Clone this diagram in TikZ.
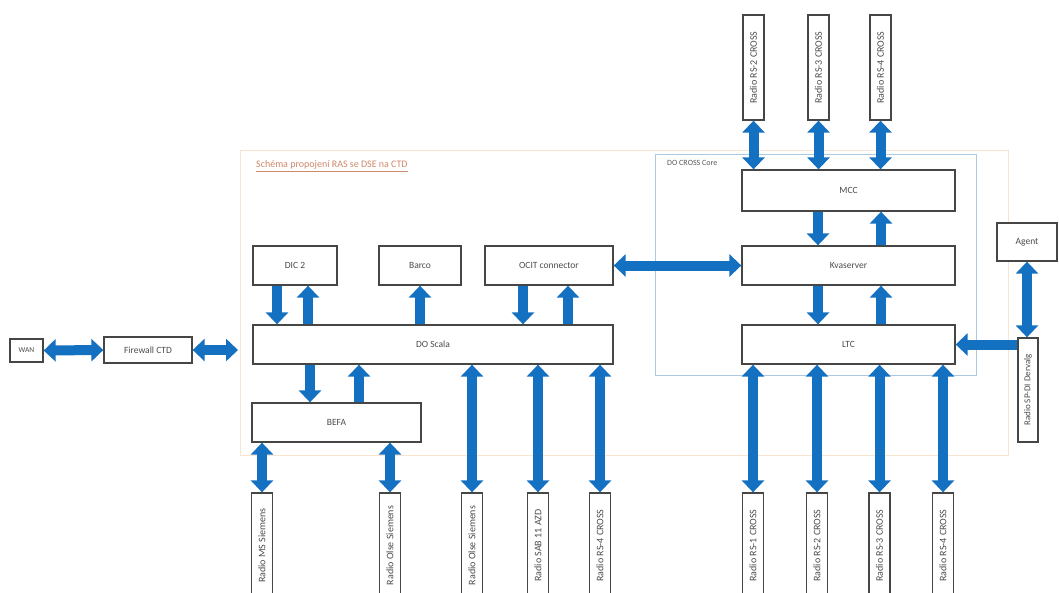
\documentclass[tikz,border=0pt]{standalone}
\usepackage{fontspec}
\setmainfont{Carlito}
\usetikzlibrary{arrows.meta}
\definecolor{arr}{RGB}{20,112,192}
\definecolor{bx}{RGB}{70,70,70}
\definecolor{fr}{RGB}{248,228,208}
\definecolor{core}{RGB}{170,202,228}
\definecolor{lbl}{RGB}{205,135,105}
\tikzset{
  box/.style={draw=bx, line width=1.3pt, fill=white, inner sep=0pt,
    font=\fontsize{9.5}{11}\selectfont, text=black!70},
  rbox/.style={box, rotate=90, minimum width=105pt, minimum height=21pt,
    font=\fontsize{10}{11}\selectfont},
  fat/.style={draw=arr, line width=10pt, -{Triangle[width=22pt,length=12pt]}},
  fatb/.style={draw=arr, line width=10pt, {Triangle[width=22pt,length=12pt]}-{Triangle[width=22pt,length=12pt]}},
}
\begin{document}
\begin{tikzpicture}[x=1pt,y=-1pt]
\useasboundingbox (0,0) rectangle (1059,592);
\clip (0,0) rectangle (1059,592);
% frames
\draw[fr, line width=1pt] (240,150) rectangle (1008,455);
\draw[core, line width=0.9pt] (655,154) rectangle (976,375);
\node[anchor=west, inner sep=0pt, font=\fontsize{10}{11}\selectfont, text=lbl] (title) at (256,166) {\underline{Schéma propojení RAS se DSE na CTD}};
\node[anchor=west, inner sep=0pt, font=\fontsize{8}{9}\selectfont, text=black!65] (corelbl) at (667,163) {DO CROSS Core};
% boxes
\node[box, minimum width=33pt, minimum height=23pt, font=\fontsize{7.5}{9}\selectfont] (wan) at (26.5,350.5) {WAN};
\node[box, minimum width=88pt, minimum height=26pt] (fw) at (148,350) {Firewall CTD};
\coordinate (fin) at (238,350);
\node[box, minimum width=84pt, minimum height=39pt] (dic) at (295,265.5) {DIC 2};
\node[box, minimum width=82pt, minimum height=39pt] (barco) at (420,265.5) {Barco};
\node[box, minimum width=128pt, minimum height=39pt] (ocit) at (549,265.5) {OCIT connector};
\node[box, minimum width=360pt, minimum height=39pt] (scala) at (433,344.5) {DO Scala};
\node[box, minimum width=169pt, minimum height=39pt] (befa) at (336.5,422.5) {BEFA};
\node[box, minimum width=213pt, minimum height=41pt] (mcc) at (848.5,190.5) {MCC};
\node[box, minimum width=213pt, minimum height=39pt] (kva) at (848.5,265.5) {Kvaserver};
\node[box, minimum width=213pt, minimum height=39pt] (ltc) at (848.5,344.5) {LTC};
\node[box, minimum width=60pt, minimum height=38pt] (agent) at (1027,242) {Agent};
\node[box, rotate=90, minimum width=104pt, minimum height=20pt, font=\fontsize{9}{10}\selectfont] (spdi) at (1028,390) {Radio SP-DI Dervalg};
% top radios
\node[rbox] (t1) at (753.5,67.5) {Radio RS-2 CROSS};
\node[rbox] (t2) at (818.5,67.5) {Radio RS-3 CROSS};
\node[rbox] (t3) at (880.5,67.5) {Radio RS-4 CROSS};
% bottom radios
\node[rbox] (b1) at (262,545.5) {Radio MS Siemens};
\node[rbox] (b2) at (390,545.5) {Radio Olse Siemens};
\node[rbox] (b3) at (472,545.5) {Radio Olse Siemens};
\node[rbox] (b4) at (538,545.5) {Radio SAB 11 AZD};
\node[rbox] (b5) at (600,545.5) {Radio RS-4 CROSS};
\node[rbox] (b6) at (753,545.5) {Radio RS-1 CROSS};
\node[rbox] (b7) at (817,545.5) {Radio RS-2 CROSS};
\node[rbox] (b8) at (879.5,545.5) {Radio RS-3 CROSS};
\node[rbox] (b9) at (943,545.5) {Radio RS-4 CROSS};
% arrows
\draw[fatb] (wan.east) -- (fw.west);
\draw[fatb] (fw.east) -- (fin);
\draw[fat] (277,0 |- dic.south) -- (277,0 |- scala.north);
\draw[fat] (308,0 |- scala.north) -- (308,0 |- dic.south);
\draw[fat] (420,0 |- scala.north) -- (barco.south);
\draw[fat] (523,0 |- ocit.south) -- (523,0 |- scala.north);
\draw[fat] (568,0 |- scala.north) -- (568,0 |- ocit.south);
\draw[fatb] (ocit.east) -- (kva.west);
\draw[fat] (310,0 |- scala.south) -- (310,0 |- befa.north);
\draw[fat] (359,0 |- befa.north) -- (359,0 |- scala.south);
\draw[fatb] (b1.east |- befa.south) -- (b1.east);
\draw[fatb] (b2.east |- befa.south) -- (b2.east);
\draw[fatb] (b3.east |- scala.south) -- (b3.east);
\draw[fatb] (b4.east |- scala.south) -- (b4.east);
\draw[fatb] (b5.east |- scala.south) -- (b5.east);
\draw[fatb] (b6.east |- ltc.south) -- (b6.east);
\draw[fatb] (b7.east |- ltc.south) -- (b7.east);
\draw[fatb] (b8.east |- ltc.south) -- (b8.east);
\draw[fatb] (b9.east |- ltc.south) -- (b9.east);
\draw[fatb] (t1.west) -- (t1.west |- mcc.north);
\draw[fatb] (t2.west) -- (t2.west |- mcc.north);
\draw[fatb] (t3.west) -- (t3.west |- mcc.north);
\draw[fat] (818,0 |- mcc.south) -- (818,0 |- kva.north);
\draw[fat] (881,0 |- kva.north) -- (881,0 |- mcc.south);
\draw[fat] (818,0 |- kva.south) -- (818,0 |- ltc.north);
\draw[fat] (881,0 |- ltc.north) -- (881,0 |- kva.south);
\draw[fat] (spdi.north |- ltc.east) -- (ltc.east);
\draw[fatb] (agent.south) -- (agent.south |- spdi.east);
\end{tikzpicture}
\end{document}
